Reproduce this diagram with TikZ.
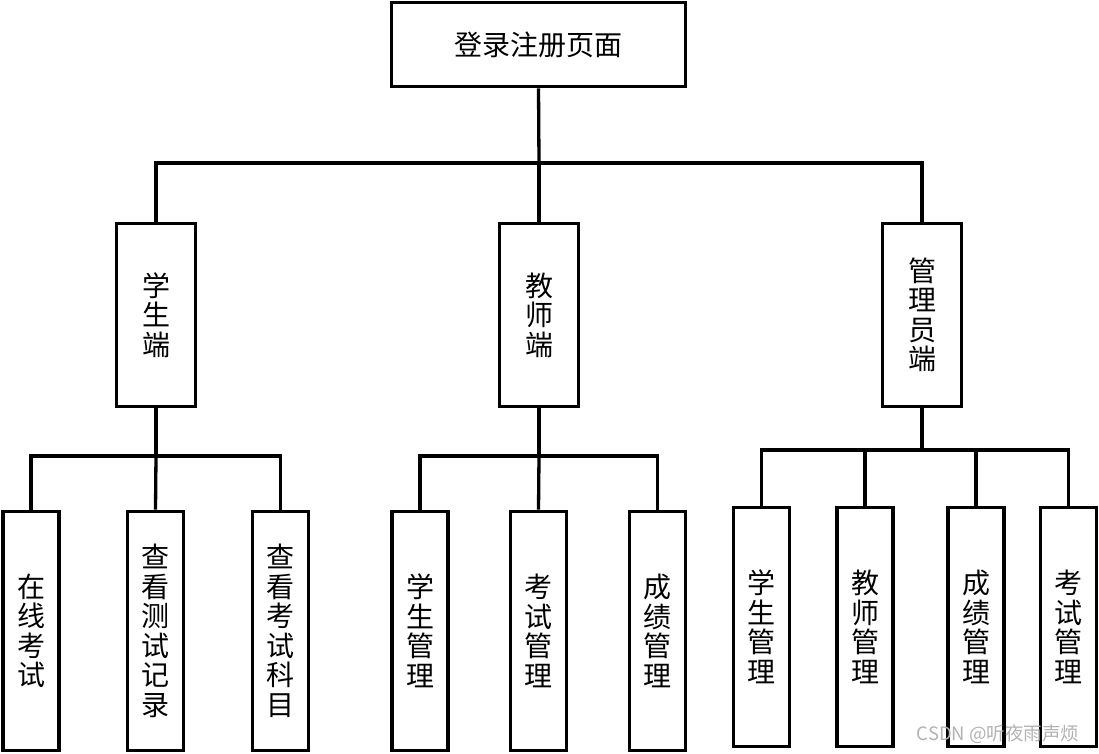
\documentclass[tikz,border=0pt]{standalone}
\usepackage{fontspec}
\setmainfont{Noto Sans CJK SC}
\begin{document}
\begin{tikzpicture}[x=1pt,y=-1pt,
  box/.style={draw=black, line width=3.6pt, fill=white, inner sep=0pt, align=center,
    font=\fontsize{28}{29.5}\selectfont},
  topbox/.style={box, minimum width=294pt, minimum height=84pt},
  midbox/.style={box, minimum width=79pt, minimum height=183pt},
  leafbox/.style={box, minimum width=56pt, minimum height=239pt},
  link/.style={draw=black, line width=3.3pt, line join=miter}]
\useasboundingbox (0,0) rectangle (1099,754);
% bus coordinates
\coordinate (b0) at (539,163);
\coordinate (bs) at (156,456);
\coordinate (bt) at (539,456);
\coordinate (ba) at (922,450);
% top
\node[topbox] (top) at (538.5,44.5) {登录注册页面};
% level 1
\node[midbox] (stu) at (156,315) {学\\生\\端};
\node[midbox] (tea) at (539,315) {教\\师\\端};
\node[midbox] (adm) at (922,315) {管\\理\\员\\端};
% student leaves
\node[leafbox] (s1) at (31,631) {在\\线\\考\\试};
\node[leafbox] (s2) at (155.5,631) {查\\看\\测\\试\\记\\录};
\node[leafbox] (s3) at (280.5,631) {查\\看\\考\\试\\科\\目};
% teacher leaves
\node[leafbox] (t1) at (420,631) {学\\生\\管\\理};
\node[leafbox] (t2) at (538.5,631) {考\\试\\管\\理};
\node[leafbox] (t3) at (657.5,631) {成\\绩\\管\\理};
% admin leaves
\node[leafbox] (a1) at (761.5,627) {学\\生\\管\\理};
\node[leafbox] (a2) at (865,627) {教\\师\\管\\理};
\node[leafbox] (a3) at (976,627) {成\\绩\\管\\理};
\node[leafbox] (a4) at (1068.5,627) {考\\试\\管\\理};
% level 0 -> 1
\path[link] (top.south) -- (b0);
\path[link] (stu.north) -- (stu.north |- b0) -- (adm.north |- b0) -- (adm.north);
\path[link] (tea.north) -- (b0);
% student
\path[link] (stu.south) -- (bs);
\path[link] (s1.north) -- (s1.north |- bs) -- (s3.north |- bs) -- (s3.north);
\path[link] (s2.north) -- (bs);
% teacher
\path[link] (tea.south) -- (bt);
\path[link] (t1.north) -- (t1.north |- bt) -- (t3.north |- bt) -- (t3.north);
\path[link] (t2.north) -- (bt);
% admin
\path[link] (adm.south) -- (ba);
\path[link] (a1.north) -- (a1.north |- ba) -- (a4.north |- ba) -- (a4.north);
\path[link] (a2.north) -- (a2.north |- ba);
\path[link] (a3.north) -- (a3.north |- ba);
% watermark
\node[text=black!30, font=\fontsize{18.5}{18.5}\selectfont, inner sep=0pt] (wm) at (998,734) {CSDN @听夜雨声烦};
\end{tikzpicture}
\end{document}
